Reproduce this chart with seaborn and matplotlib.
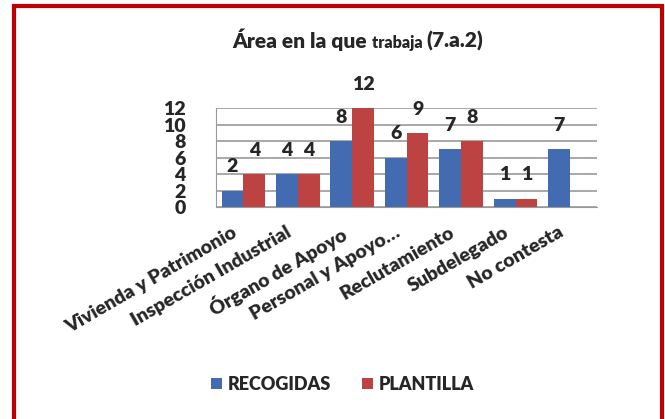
import numpy as np
import pandas as pd
import seaborn as sns
import matplotlib.pyplot as plt
import matplotlib.transforms as mtransforms
from matplotlib.patches import Rectangle

# datos del grafico
areas = ['Vivienda y Patrimonio', 'Inspección Industrial', 'Órgano de Apoyo',
         'Personal y Apoyo…', 'Reclutamiento', 'Subdelegado', 'No contesta']
recogidas = [2, 4, 8, 6, 7, 1, 7]
plantilla = [4, 4, 12, 9, 8, 1, np.nan]
series = ['RECOGIDAS', 'PLANTILLA']
colores = ['#2F67C3', '#D12E2E']
y_ticks = [0, 2, 4, 6, 8, 10, 12]

df = pd.DataFrame({'area': areas * 2,
                   'serie': [series[0]] * len(areas) + [series[1]] * len(areas),
                   'valor': recogidas + plantilla})

sns.set_style('white')
plt.rcParams['font.family'] = ['Lato', 'DejaVu Sans']
peso = 'heavy'

fig = plt.figure(figsize=(6.65, 4.19), dpi=100)
ax = fig.add_axes([0.325, 0.506, 0.573, 0.236])

sns.barplot(data=df, x='area', y='valor', hue='serie', palette=colores,
            width=0.8, ax=ax, legend=True, edgecolor='none')

for c in ax.containers:
    ax.bar_label(c, fmt='%g', padding=11, fontsize=14, fontweight=peso)

ax.set_ylim(0, 12)
ax.set_yticks(y_ticks)
ax.set_yticklabels([str(v) for v in y_ticks], fontsize=14, fontweight=peso)
ax.set_xlim(-0.5, 6.5)
ax.set_xlabel('')
ax.set_ylabel('')
ax.yaxis.grid(True, color='#9a9a9a', linewidth=1.2)
ax.set_axisbelow(True)
for s in ['top', 'right']:
    ax.spines[s].set_visible(False)
ax.spines['left'].set_color('#9a9a9a')
ax.spines['bottom'].set_color('#9a9a9a')
ax.tick_params(axis='y', pad=22, length=0)
ax.tick_params(axis='x', length=0, pad=12)
desplaza = mtransforms.ScaledTranslation(-12 / 100, 0, fig.dpi_scale_trans)
for lab in ax.get_xticklabels():
    lab.set_rotation(30)
    lab.set_ha('right')
    lab.set_rotation_mode('anchor')
    lab.set_fontsize(14)
    lab.set_fontweight(peso)
    lab.set_transform(lab.get_transform() + desplaza)

leg = ax.legend(loc='center', bbox_to_anchor=(0.515, 0.083), bbox_transform=fig.transFigure,
                ncol=2, frameon=False, handlelength=0.6, handleheight=0.6,
                handletextpad=0.35, columnspacing=1.7,
                prop={'weight': peso, 'size': 13})

# titulo con dos tamaños
t1 = fig.text(0.35, 0.885, 'Área en la que ', fontsize=15, fontweight=peso, va='baseline')
t2 = ax.annotate('trabaja ', xy=(1, 0), xycoords=t1, va='bottom', fontsize=11.5,
                 fontweight=peso, annotation_clip=False)
ax.annotate('(7.a.2)', xy=(1, 0), xycoords=t2, va='bottom', fontsize=15,
            fontweight=peso, annotation_clip=False)

# marco rojo
fig.patches.append(Rectangle((0.021, -0.02), 0.974, 1.005, transform=fig.transFigure,
                             fill=False, edgecolor='#C00000', linewidth=3))

fig.savefig('out.png', dpi=100)
